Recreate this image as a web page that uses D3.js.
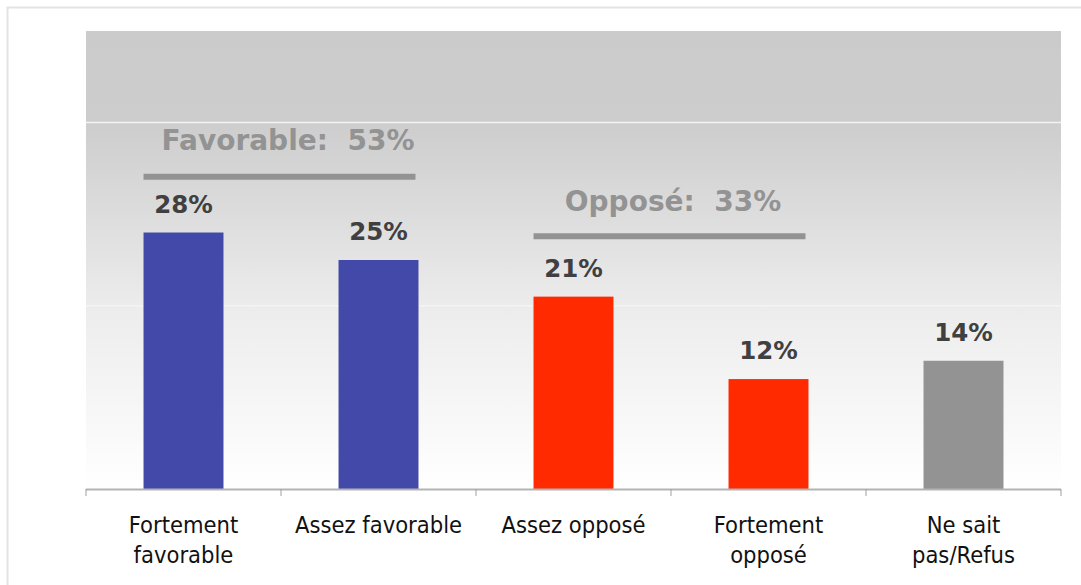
<!DOCTYPE html>
<html>
<head>
<meta charset="utf-8">
<script src="https://cdn.jsdelivr.net/npm/d3@7"></script>
<style>
  body { margin: 0; background: #fff; }
  svg { display: block; }
</style>
</head>
<body>
<svg id="chart" width="1081" height="585"></svg>
<script>
// data
var categories = ["Fortement favorable", "Assez favorable", "Assez opposé", "Fortement opposé", "Ne sait pas/Refus"];
var labelLines = [["Fortement", "favorable"], ["Assez favorable"], ["Assez opposé"], ["Fortement", "opposé"], ["Ne sait", "pas/Refus"]];
var values = [28, 25, 21, 12, 14];
var barColors = ["#4349a8", "#4349a8", "#ff2a00", "#ff2a00", "#939393"];
var yTicks = [20, 40];
// group headers: first and last category covered
var groupNames = ["Favorable:  53%", "Opposé:  33%"];
var groupSpans = [[0, 1], [2, 3]];
var groupTextLevel = [37.0, 30.4];
var groupLineLevel = [34.1, 27.6];

var svg = d3.select("#chart");
// note: "top" is taken by window.top, so plot edges get their own names
var plotLeft = 86, plotRight = 1061, plotTop = 31, plotBottom = 489;
var headerShift = [7, 2];

// outer frame
svg.append("rect")
  .attr("x", 7.5).attr("y", 7.5)
  .attr("width", 1090).attr("height", 600)
  .attr("fill", "none")
  .attr("stroke", "#e3e3e3")
  .attr("stroke-width", 2);

var x = d3.scaleBand()
  .domain(categories)
  .range([plotLeft, plotRight])
  .paddingInner(0.59)
  .paddingOuter(0.295);

var y = d3.scaleLinear()
  .domain([0, 50])
  .range([plotBottom, plotTop]);

//background gradient
var defs = svg.append("defs");
var grad = defs.append("linearGradient")
  .attr("id", "bg")
  .attr("x1", 0).attr("y1", 0).attr("x2", 0).attr("y2", 1);
grad.append("stop").attr("offset", "0").attr("stop-color", "#cbcbcb");
grad.append("stop").attr("offset", "0.2").attr("stop-color", "#cdcdcd");
grad.append("stop").attr("offset", "0.6").attr("stop-color", "#ececec");
grad.append("stop").attr("offset", "1").attr("stop-color", "#ffffff");

svg.append("rect")
  .attr("x", plotLeft).attr("y", plotTop)
  .attr("width", plotRight - plotLeft).attr("height", plotBottom - plotTop)
  .attr("fill", "url(#bg)");

// gridlines
svg.selectAll(".grid")
  .data(yTicks)
  .enter()
  .append("line")
  .attr("class", "grid")
  .attr("x1", plotLeft).attr("x2", plotRight)
  .attr("y1", function(d){ return y(d); })
  .attr("y2", function(d){ return y(d); })
  .attr("stroke", "#f4f4f4")
  .attr("stroke-width", 1.5);

// bars
svg.selectAll(".bar")
  .data(values)
  .enter()
  .append("rect")
  .attr("class", "bar")
  .attr("x", function(d, i){ return x(categories[i]); })
  .attr("y", function(d){ return y(d); })
  .attr("width", x.bandwidth())
  .attr("height", function(d){ return plotBottom - y(d); })
  .attr("fill", function(d, i){ return barColors[i]; });

// value labels
svg.selectAll(".val")
  .data(values)
  .enter()
  .append("text")
  .attr("class", "val")
  .attr("x", function(d, i){ return x(categories[i]) + x.bandwidth() / 2; })
  .attr("y", function(d){ return y(d) - 20; })
  .attr("text-anchor", "middle")
  .attr("font-family", "DejaVu Sans")
  .attr("font-weight", "bold")
  .attr("font-size", "24.5px")
  .attr("fill", "#404040")
  .text(function(d){ return d + "%"; });

// x axis
var step = x.step();
var axisG = svg.append("g");
axisG.append("line")
  .attr("x1", plotLeft).attr("x2", plotRight)
  .attr("y1", plotBottom + 0.5).attr("y2", plotBottom + 0.5)
  .attr("stroke", "#b3b3b3")
  .attr("stroke-width", 2);
axisG.selectAll(".tick")
  .data(d3.range(categories.length + 1))
  .enter()
  .append("line")
  .attr("x1", function(i){ return plotLeft + i * step; })
  .attr("x2", function(i){ return plotLeft + i * step; })
  .attr("y1", plotBottom).attr("y2", plotBottom + 7)
  .attr("stroke", "#a0a0a0")
  .attr("stroke-width", 1);

var catLabels = svg.selectAll(".cat")
  .data(labelLines)
  .enter()
  .append("text")
  .attr("class", "cat")
  .attr("text-anchor", "middle")
  .attr("font-family", "DejaVu Sans Condensed, DejaVu Sans")
  .attr("font-stretch", "condensed")
  .attr("font-size", "23.5px")
  .attr("fill", "#111");
catLabels.selectAll("tspan")
  .data(function(d, i){ return d.map(function(t){ return {t: t, i: i}; }); })
  .enter()
  .append("tspan")
  .attr("x", function(d){ return x(categories[d.i]) + x.bandwidth() / 2; })
  .attr("y", function(d, j){ return 533 + j * 30; })
  .text(function(d){ return d.t; });

// group headers
groupSpans.forEach(function(s, g){
  var x0 = x(categories[s[0]]);
  var x1 = x(categories[s[1]]) + x.bandwidth();
  svg.append("line")
    .attr("x1", x0).attr("x2", x1 - 3)
    .attr("y1", y(groupLineLevel[g])).attr("y2", y(groupLineLevel[g]))
    .attr("stroke", "#939393")
    .attr("stroke-width", 6);
  svg.append("text")
    .attr("x", (x0 + x1) / 2 + headerShift[g])
    .attr("y", y(groupTextLevel[g]))
    .attr("text-anchor", "middle")
    .attr("font-family", "DejaVu Sans")
    .attr("font-weight", "bold")
    .attr("font-size", "28px")
    .attr("fill", "#939393")
    .style("white-space", "pre")
    .text(groupNames[g]);
});
</script>
</body>
</html>
